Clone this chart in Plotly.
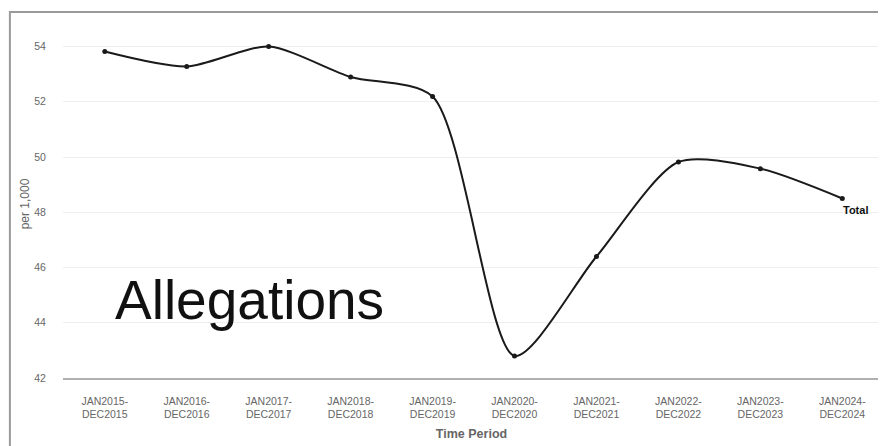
import plotly.graph_objects as go

# Data
periods = ["JAN2015-DEC2015", "JAN2016-DEC2016", "JAN2017-DEC2017", "JAN2018-DEC2018",
           "JAN2019-DEC2019", "JAN2020-DEC2020", "JAN2021-DEC2021", "JAN2022-DEC2022",
           "JAN2023-DEC2023", "JAN2024-DEC2024"]
tick_text = [p.replace("-", "-<br>") for p in periods]
total_rate = [53.82, 53.28, 54.0, 52.9, 52.19, 42.8, 46.4, 49.82, 49.58, 48.5]
y_ticks = [42, 44, 46, 48, 50, 52, 54]

fig = go.Figure()

fig.add_trace(go.Scatter(
    x=list(range(len(periods))),
    y=total_rate,
    mode="lines+markers",
    line=dict(color="#1a1a1a", width=2, shape="spline", smoothing=0.75),
    marker=dict(color="#1a1a1a", size=5),
    name="Total",
    showlegend=False,
))

# series label at the end of the line
fig.add_annotation(
    x=len(periods) - 1, y=total_rate[-1], text="<b>Total</b>",
    showarrow=False, xanchor="left", yanchor="top", xshift=-1, yshift=-4,
    font=dict(family="Liberation Sans, Arial", size=11, color="#111"),
)

# big overlay caption
fig.add_annotation(
    x=0.228, y=0.224, xref="paper", yref="paper", text="Allegations",
    showarrow=False, xanchor="center", yanchor="middle",
    font=dict(family="Liberation Sans, Arial", size=55, color="#111"),
)

# frame around the chart panel
fig.add_shape(type="rect", xref="paper", yref="paper",
              x0=-0.065, x1=1.2, y0=-0.3, y1=1.052,
              line=dict(color="#9a9a9a", width=2), layer="below")

# page body has an 8px margin, so the figure is 8px smaller and margins shifted
fig.update_layout(
    width=878, height=438,
    margin=dict(l=55, r=6, t=22, b=68),
    paper_bgcolor="white", plot_bgcolor="white",
    font=dict(family="Liberation Sans, Arial", color="#555"),
    xaxis=dict(
        range=[-0.51, len(periods) - 1 + 0.46],
        tickmode="array", tickvals=list(range(len(periods))), ticktext=tick_text,
        tickfont=dict(size=10.5, color="#666"),
        ticks="outside", ticklen=12, tickcolor="rgba(0,0,0,0)",
        showgrid=False, showline=True, linecolor="#b0b0b0", linewidth=2,
        zeroline=False,
        title=dict(text="<b>Time Period</b>", font=dict(size=12.5, color="#666"), standoff=10),
    ),
    yaxis=dict(
        range=[42, 54.6], tickvals=y_ticks,
        tickfont=dict(size=10.5, color="#666"),
        ticks="outside", ticklen=14, tickcolor="rgba(0,0,0,0)",
        showgrid=True, gridcolor="#eeeeee", gridwidth=1,
        zeroline=False, showline=False,
        title=dict(text="per 1,000", font=dict(size=12, color="#666"), standoff=2),
    ),
)

fig.write_html("out.html")
